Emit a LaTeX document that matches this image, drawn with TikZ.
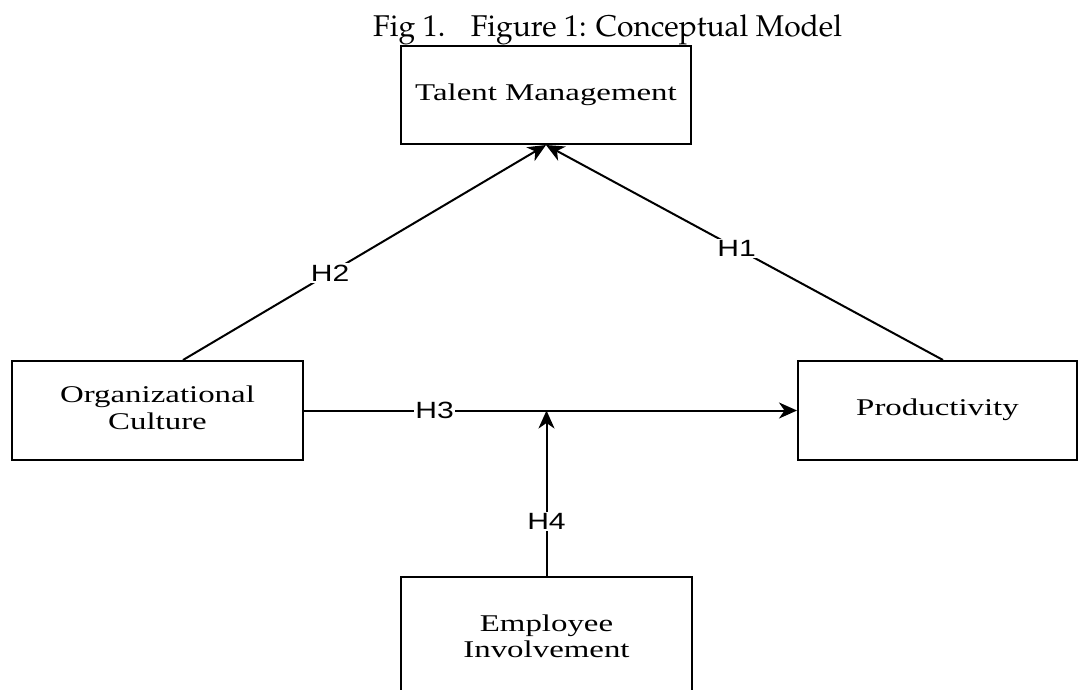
\documentclass[tikz,border=0pt]{standalone}
\usepackage[T1]{fontenc}
\usepackage{fontspec}
\usepackage{graphicx}
\usetikzlibrary{arrows.meta,calc}
\newfontfamily\tnrfont{Liberation Serif}
\newfontfamily\arlfont{Liberation Sans}
\newcommand\boxtext[1]{\scalebox{1.37}[1]{\fontsize{24}{26.5}\tnrfont\begin{tabular}{@{}c@{}}#1\end{tabular}}}
\newcommand\hlab[1]{\scalebox{1.28}[1]{\fontsize{23.5}{24}\arlfont #1}}
\begin{document}
\begin{tikzpicture}[x=1pt,y=-1pt,
  box/.style={draw, line width=2pt, inner sep=0pt},
  conn/.style={line width=2pt, -{Stealth[length=18pt,width=16pt,inset=5.5pt]}},
  lab/.style={fill=white, inner sep=1.5pt}]
\useasboundingbox (0,0) rectangle (1079,689);
\clip (0,0) rectangle (1079,689);
\node[anchor=base west, inner sep=0pt] (title) at (373,36)
  {\fontencoding{T1}\fontfamily{ppl}\fontsize{30}{36}\selectfont Fig 1.\hspace{0.85em}Figure 1: Conceptual Model};
\node[box, minimum width=290pt, minimum height=98pt] (tm) at (546,95) {\boxtext{Talent Management}};
\node[box, minimum width=291pt, minimum height=99pt] (oc) at (157.5,410.5) {\boxtext{Organizational\\Culture}};
\node[box, minimum width=279pt, minimum height=99pt] (pr) at (937.5,410.5) {\boxtext{Productivity}};
\node[box, minimum width=291pt, minimum height=124pt] (ei) at (546.5,639) {\boxtext{Employee\\Involvement}};
\draw[conn] ([xshift=25.5pt]oc.north) -- node[lab,pos=0.405]{\hlab{H2}} (tm.south);
\draw[conn] ([xshift=5.5pt]pr.north) -- node[lab,pos=0.52]{\hlab{H1}} (tm.south);
\draw[conn] (oc.east) -- node[lab,pos=0.265]{\hlab{H3}} (pr.west);
\coordinate (jn) at (ei.north |- oc.east);
\draw[conn] (ei.north) -- node[lab,pos=0.33]{\hlab{H4}} (jn);
\end{tikzpicture}
\end{document}
